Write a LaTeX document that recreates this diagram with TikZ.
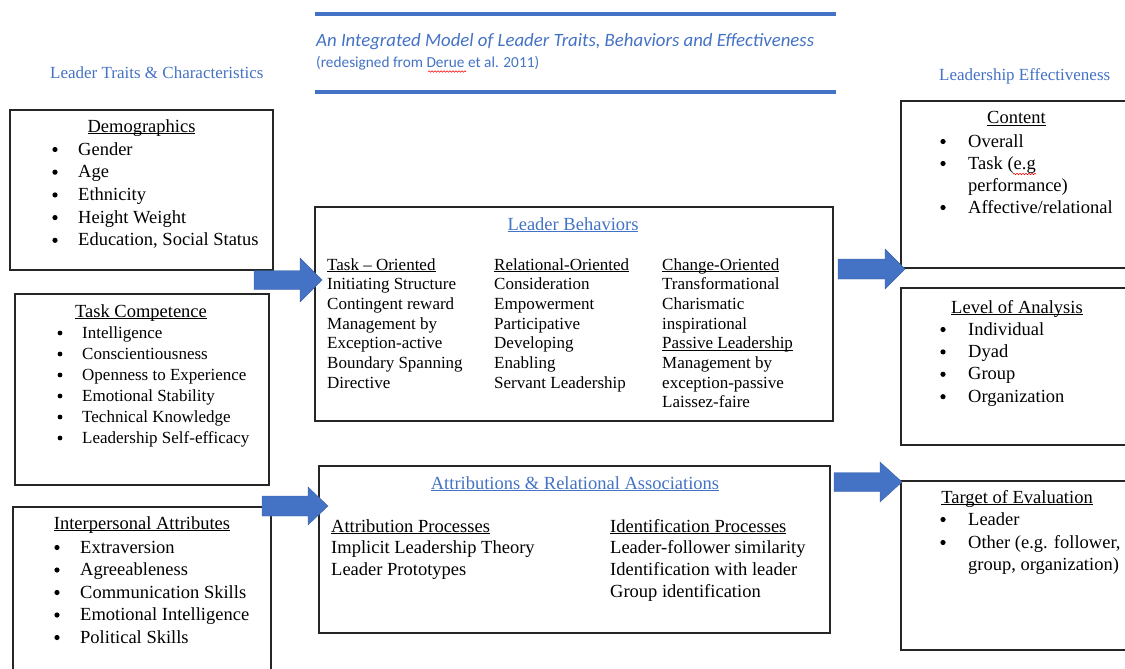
\documentclass[tikz,border=0pt]{standalone}
\usepackage{fontspec}
\setmainfont{Liberation Serif}
\newfontfamily\calibrifont{Carlito}
\usetikzlibrary{decorations.pathmorphing}
\definecolor{wblue}{HTML}{4472C4}
\newcommand\blockarrow[6]{% base, neck, tip, y-centre, body half, head half
  \fill[barrow] ({#1},{#4-#5}) -- ({#2},{#4-#5}) -- ({#2},{#4-#6}) -- ({#3},{#4})
    -- ({#2},{#4+#6}) -- ({#2},{#4+#5}) -- ({#1},{#4+#5}) -- cycle;}
\newcommand\wordul[1]{\setbox0\hbox{#1}\rlap{\rule[-1.8pt]{\wd0}{0.9pt}}\box0}
\begin{document}
\begin{tikzpicture}[x=1pt,y=-1pt,
  box/.style={draw=black!85, line width=1.2pt},
  tbig/.style={font=\fontsize{18.5}{22}\selectfont, inner sep=0pt, anchor=base west},
  tmid/.style={font=\fontsize{17}{20}\selectfont, inner sep=0pt, anchor=base west},
  bul/.style={circle, fill=black, inner sep=0pt, minimum size=5.2pt},
  barrow/.style={fill=wblue, draw=wblue!85!black, line width=0.4pt},
  wavy/.style={draw=red, line width=0.6pt, decorate, decoration={snake, amplitude=0.7pt, segment length=3pt}},
]
\useasboundingbox (0,0) rectangle (1125,669);

% header
\draw[wblue, line width=4pt] (315,14) -- (836,14);
\draw[wblue, line width=4pt] (315,92) -- (836,92);
\node[inner sep=0pt, anchor=base west, font=\calibrifont\itshape\fontsize{18.8}{22}\selectfont, text=wblue] (title) at (316,47) {An Integrated Model of Leader Traits, Behaviors and Effectiveness};
\node[inner sep=0pt, anchor=base west, font=\calibrifont\fontsize{15.3}{18}\selectfont, text=wblue] (sub) at (316,67) {(redesigned from Derue et al. 2011)};
\draw[wavy] (428,71.5) -- (466,71.5);

\node[tmid, text=wblue] (lt) at (50,79) {Leader Traits \& Characteristics};
\node[tmid, text=wblue] (le) at (939,81) {Leadership Effectiveness};

% boxes
\draw[box] (10,110) rectangle (273,270);
\draw[box] (15,294) rectangle (269,485);
\draw[box] (13,669) -- (13,507) -- (271,507) -- (271,669);
\draw[box] (315,207) rectangle (833,421);
\draw[box] (319,466) rectangle (830,633);
\draw[box] (1125,101) -- (901,101) -- (901,268) -- (1125,268);
\draw[box] (1125,288) -- (901,288) -- (901,445) -- (1125,445);
\draw[box] (1125,481) -- (901,481) -- (901,650) -- (1125,650);

% arrows
\blockarrow{254}{300}{322}{280}{9.5}{22}
\blockarrow{838}{885}{905}{269}{10}{20}
\blockarrow{834}{880}{902}{482}{9.5}{20}
\blockarrow{262}{308}{328}{506}{10}{19}

% Demographics
\node[tbig, anchor=base] (demoT) at (141.5,132) {\wordul{Demographics}};
\foreach \t [count=\i] in {Gender, Age, Ethnicity, Height Weight, {Education, Social Status}} {
  \node[bul] (demoB\i) at (55,{149.5+(\i-1)*22.7}) {};
  \node[tbig] (demo\i) at (78,{155+(\i-1)*22.7}) {\t};
}

% Task Competence
\node[tbig, anchor=base] (tcT) at (141,317) {\wordul{Task Competence}};
\foreach \t [count=\i] in {Intelligence, Conscientiousness, Openness to Experience, Emotional Stability, Technical Knowledge, Leadership Self-efficacy} {
  \node[bul, minimum size=4.8pt] (tcB\i) at (60,{333+(\i-1)*21}) {};
  \node[tmid] (tc\i) at (82,{338+(\i-1)*21}) {\t};
}

% Interpersonal Attributes
\node[tbig, anchor=base] (ipT) at (142,529) {\wordul{Interpersonal Attributes}};
\foreach \t [count=\i] in {Extraversion, Agreeableness, Communication Skills, Emotional Intelligence, Political Skills} {
  \node[bul] (ipB\i) at (57,{547.5+(\i-1)*22.5}) {};
  \node[tbig] (ip\i) at (80,{553+(\i-1)*22.5}) {\t};
}

% Leader Behaviors
\node[tbig, anchor=base, text=wblue] (lbT) at (573,230) {\wordul{Leader Behaviors}};
\foreach \t [count=\i] in {\wordul{Task -- Oriented}, Initiating Structure, Contingent reward, Management by, Exception-active, Boundary Spanning, Directive} {
  \node[tmid] (lbA\i) at (327,{270+(\i-1)*19.7}) {\t};
}
\foreach \t [count=\i] in {\wordul{Relational-Oriented}, Consideration, Empowerment, Participative, Developing, Enabling, Servant Leadership} {
  \node[tmid] (lbB\i) at (494,{270+(\i-1)*19.7}) {\t};
}
\foreach \t [count=\i] in {\wordul{Change-Oriented}, Transformational, Charismatic, inspirational, \wordul{Passive Leadership}, Management by, exception-passive, Laissez-faire} {
  \node[tmid] (lbC\i) at (662,{270+(\i-1)*19.7}) {\t};
}

% Attributions
\node[tbig, anchor=base, text=wblue] (arT) at (575,489) {\wordul{Attributions \& Relational Associations}};
\foreach \t [count=\i] in {\wordul{Attribution Processes}, Implicit Leadership Theory, Leader Prototypes} {
  \node[tbig] (arA\i) at (331,{532+(\i-1)*21.7}) {\t};
}
\foreach \t [count=\i] in {\wordul{Identification Processes}, Leader-follower similarity, Identification with leader, Group identification} {
  \node[tbig] (arB\i) at (610,{532+(\i-1)*21.7}) {\t};
}

% Content
\node[tbig, anchor=base] (ctT) at (1016.5,124) {\wordul{Content}};
\node[bul] (ctB1) at (943,141.5) {};
\node[tbig] (ct1) at (968,147) {Overall};
\node[bul] (ctB2) at (943,163.5) {};
\node[tbig] (ct2) at (968,169) {Task (e.g};
\node[tbig] (ct2b) at (968,191) {performance)};
\node[bul] (ctB3) at (943,207.5) {};
\node[tbig] (ct3) at (968,213) {Affective/relational};
\draw[wavy] (1013,174) -- (1036,174);

% Level of Analysis
\node[tbig, anchor=base] (laT) at (1017,313) {\wordul{Level of Analysis}};
\foreach \t [count=\i] in {Individual, Dyad, Group, Organization} {
  \node[bul] (laB\i) at (943,{329.5+(\i-1)*22.4}) {};
  \node[tbig] (la\i) at (968,{335+(\i-1)*22.4}) {\t};
}

% Target of Evaluation
\node[tbig, anchor=base] (teT) at (1017,503) {\wordul{Target of Evaluation}};
\node[bul] (teB1) at (943,519.5) {};
\node[tbig] (te1) at (968,525) {Leader};
\node[bul] (teB2) at (943,542.5) {};
\node[tbig] (te2) at (968,548) {Other (e.g. follower,};
\node[tbig] (te2b) at (968,570) {group, organization)};
\end{tikzpicture}
\end{document}
